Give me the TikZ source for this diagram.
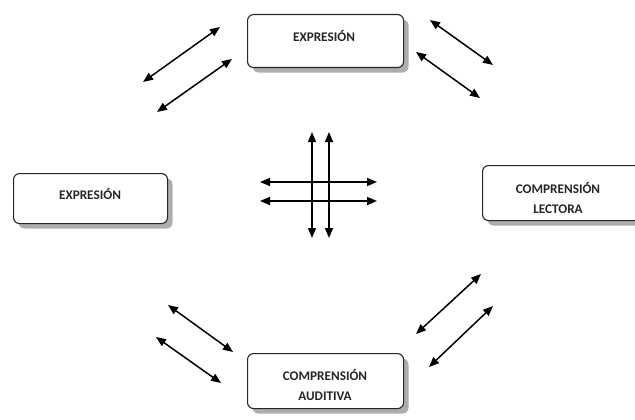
\documentclass[tikz,border=0pt]{standalone}
\usepackage{fontspec}
\setmainfont{Carlito}
\usetikzlibrary{arrows.meta,shadows}
\tikzset{
  box/.style={draw=black!85, line width=1.1pt, rounded corners=6pt, fill=white,
    inner sep=0pt,
    drop shadow={shadow xshift=5pt, shadow yshift=-5pt, fill=black!40, opacity=0.8}},
  lbl/.style={align=center, font=\fontsize{13.2}{20}\selectfont\bfseries, text=black!85},
  dbl/.style={line width=1.5pt, {Triangle[length=10pt,width=8pt]}-{Triangle[length=10pt,width=8pt]}}
}
\begin{document}
\begin{tikzpicture}[x=1pt,y=-1pt]
\useasboundingbox (0,0) rectangle (635,420);
% boxes
\node[box, minimum width=156pt, minimum height=53pt, anchor=north west] (top) at (247,14) {};
\node[lbl] (toplbl) at (324,36) {EXPRESIÓN};
\node[box, minimum width=154pt, minimum height=50pt, anchor=north west] (left) at (13,173) {};
\node[lbl] (leftlbl) at (90,194) {EXPRESIÓN};
\node[box, minimum width=158pt, minimum height=55pt, anchor=north west] (right) at (482,165) {};
\node[lbl] (rightlbl) at (558,198) {COMPRENSIÓN\\LECTORA};
\node[box, minimum width=156pt, minimum height=55pt, anchor=north west] (bot) at (247,353) {};
\node[lbl] (botlbl) at (325,385) {COMPRENSIÓN\\AUDITIVA};
% arrow endpoints
\coordinate (tl1a) at (143,82);  \coordinate (tl1b) at (220,27);
\coordinate (tl2a) at (157,112); \coordinate (tl2b) at (232,59);
\coordinate (tr1a) at (430,20);  \coordinate (tr1b) at (493,65);
\coordinate (tr2a) at (416,52);  \coordinate (tr2b) at (480,98);
\coordinate (br1a) at (416,334); \coordinate (br1b) at (481,274);
\coordinate (br2a) at (429,367); \coordinate (br2b) at (493,306);
\coordinate (bl1a) at (168,305); \coordinate (bl1b) at (233,352);
\coordinate (bl2a) at (156,337); \coordinate (bl2b) at (221,383);
\coordinate (v1a) at (312,132);  \coordinate (v1b) at (312,238);
\coordinate (v2a) at (329,132);  \coordinate (v2b) at (329,238);
\coordinate (h1a) at (260,182);  \coordinate (h1b) at (377,182);
\coordinate (h2a) at (260,201);  \coordinate (h2b) at (377,201);
\foreach \p in {tl1,tl2,tr1,tr2,br1,br2,bl1,bl2,v1,v2,h1,h2}
  \draw[dbl] (\p a) -- (\p b);
\end{tikzpicture}
\end{document}
